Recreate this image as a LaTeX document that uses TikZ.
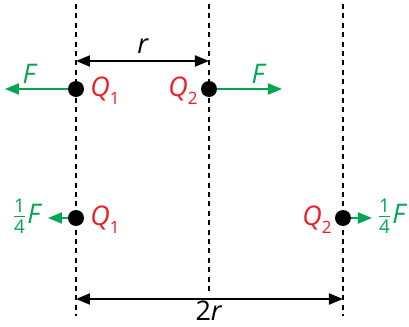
\documentclass[tikz,border=0pt]{standalone}
\usepackage{amsmath}
\usepackage{fontspec}
\setmainfont{Open Sans}
\usetikzlibrary{arrows.meta,positioning}
\definecolor{forcegreen}{RGB}{0,166,81}
\definecolor{chargered}{RGB}{237,28,36}
\newcommand{\qsub}[1]{\raisebox{-0.32em}{\fontsize{8.5}{9}\selectfont #1}}

\begin{document}
\begin{tikzpicture}[x=0.5pt,y=-0.5pt,font=\fontsize{13.5}{15}\selectfont,
    guide/.style={line width=1.1pt,dash pattern=on 2.5pt off 2.2pt},
    charge/.style={circle,fill=black,inner sep=0pt,minimum size=8pt},
    force/.style={forcegreen,line width=1pt,-{Triangle[length=7pt,width=5.5pt]}},
    dist/.style={line width=1pt,{Triangle[length=7pt,width=5.5pt]}-{Triangle[length=7pt,width=5.5pt]}},
    qlabel/.style={text=chargered},
    flabel/.style={text=forcegreen}]
    \useasboundingbox (0,0) rectangle (409,327);
    % guide lines
    \coordinate (g1t) at (76,4);   \coordinate (g1b) at (76,316);
    \coordinate (g2t) at (209,4);  \coordinate (g2b) at (209,292);
    \coordinate (g3t) at (343,4);  \coordinate (g3b) at (343,316);
    \draw[guide] (g1t) -- (g1b);
    \draw[guide] (g2t) -- (g2b);
    \draw[guide] (g3t) -- (g3b);
    % distance r
    \coordinate (ra) at (76,61); \coordinate (rb) at (209,61);
    \draw[dist] (ra) -- (rb);
    \node (rlab) at (143,46) {\textit{r}};
    % first row
    \node[charge] (q1a) at (76,89) {};
    \node[charge] (q2a) at (209,89) {};
    \coordinate (f1a) at (5,89); \coordinate (f2a) at (282,89);
    \draw[force] (q1a) -- (f1a);
    \draw[force] (q2a) -- (f2a);
    \node[flabel] (lf1a) at (30,74) {\textit{F}};
    \node[flabel] (lf2a) at (259,74) {\textit{F}};
    \node[qlabel,anchor=base west,inner sep=0pt] (lq1a) at (90,96) {\textit{Q}\qsub{1}};
    \node[qlabel,anchor=base east,inner sep=0pt] (lq2a) at (198,96) {\textit{Q}\qsub{2}};
    % second row
    \node[charge] (q1b) at (76,218) {};
    \node[charge] (q2b) at (343,218) {};
    \coordinate (f1b) at (48,218); \coordinate (f2b) at (372,218);
    \draw[force] (q1b) -- (f1b);
    \draw[force] (q2b) -- (f2b);
    \node[flabel] (lf1b) at (27,216) {$\frac{\text{1}}{\text{4}}$\textit{F}};
    \node[flabel] (lf2b) at (392,216) {$\frac{\text{1}}{\text{4}}$\textit{F}};
    \node[qlabel,anchor=base west,inner sep=0pt] (lq1b) at (90,225) {\textit{Q}\qsub{1}};
    \node[qlabel,anchor=base east,inner sep=0pt] (lq2b) at (332,225) {\textit{Q}\qsub{2}};
    % distance 2r
    \coordinate (sa) at (76,299); \coordinate (sb) at (343,299);
    \draw[dist] (sa) -- (sb);
    \node[anchor=base,inner sep=0pt] (slab) at (209,321) {2\textit{r}};
\end{tikzpicture}
\end{document}
